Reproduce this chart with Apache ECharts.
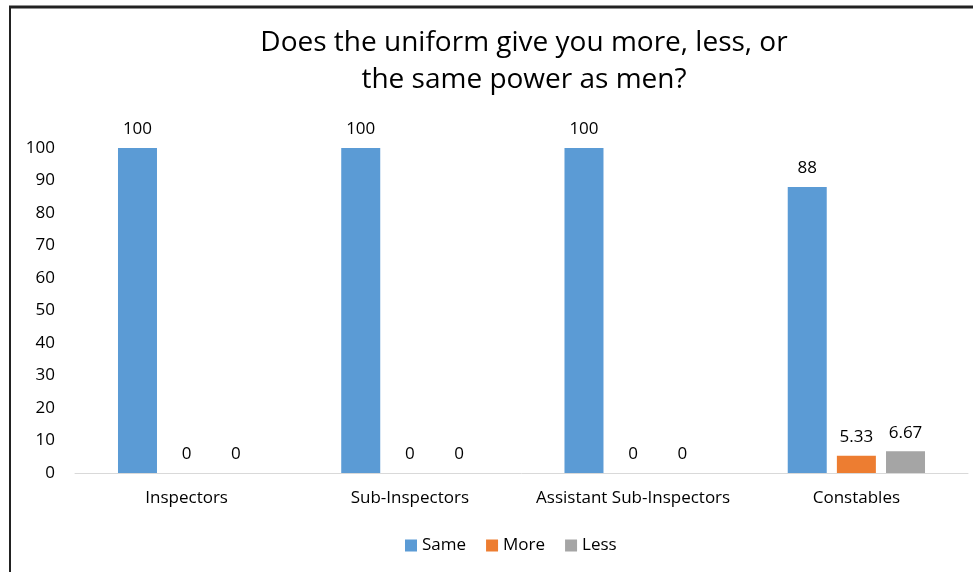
<!DOCTYPE html>
<html><head><meta charset="utf-8">
<script src="https://cdn.jsdelivr.net/npm/echarts@6/dist/echarts.min.js"></script>
<style>html,body{margin:0;padding:0;background:#fff}#c{width:973px;height:572px}</style>
</head><body><div id="c"></div>
<script>
const categories = ['Inspectors', 'Sub-Inspectors', 'Assistant Sub-Inspectors', 'Constables'];
const sameValues = [100, 100, 100, 88];
const moreValues = [0, 0, 0, 5.33];
const lessValues = [0, 0, 0, 6.67];
const seriesNames = ['Same', 'More', 'Less'];
const colors = ['#5B9BD5', '#ED7D31', '#A5A5A5'];
const titleText = 'Does the uniform give you more, less, or\nthe same power as men?';

const font = 'Open Sans';
const chart = echarts.init(document.getElementById('c'));
const mk = (name, data, color) => ({
  name, type: 'bar', data, barWidth: 39, barGap: '26%',
  itemStyle: { color },
  label: { show: true, position: 'top', distance: 10, color: '#000', fontFamily: font, fontSize: 17 }
});
chart.setOption({
  animation: false,
  color: colors,
  title: {
    text: titleText, left: 519, top: 20, textAlign: 'center',
    textStyle: { fontFamily: 'Open Sans', fontWeight: 'normal', fontSize: 28, lineHeight: 37, color: '#000' }
  },
  legend: {
    bottom: 13, left: 400, itemWidth: 12, itemHeight: 12, itemGap: 20, icon: 'rect',
    textStyle: { fontFamily: font, fontSize: 17, color: '#000' }
  },
  grid: { left: 75, right: 5, top: 148, bottom: 99, containLabel: false },
  xAxis: {
    type: 'category', data: categories,
    axisLine: { lineStyle: { color: '#D9D9D9', width: 1 } },
    axisTick: { show: false },
    axisLabel: { interval: 0, fontFamily: font, fontSize: 17, color: '#000', margin: 17 }
  },
  yAxis: {
    type: 'value', min: 0, max: 100, interval: 10,
    splitLine: { show: false }, axisLine: { show: false }, axisTick: { show: false },
    axisLabel: { fontFamily: font, fontSize: 17, color: '#000', margin: 20 }
  },
  series: [mk(seriesNames[0], sameValues, colors[0]), mk(seriesNames[1], moreValues, colors[1]), mk(seriesNames[2], lessValues, colors[2])],
  graphic: [
    { type: 'line', shape: { x1: 9, y1: 7, x2: 973, y2: 7 }, style: { stroke: '#222', lineWidth: 3 } },
    { type: 'line', shape: { x1: 10, y1: 7, x2: 10, y2: 572 }, style: { stroke: '#222', lineWidth: 2 } }
  ]
});
</script></body></html>
